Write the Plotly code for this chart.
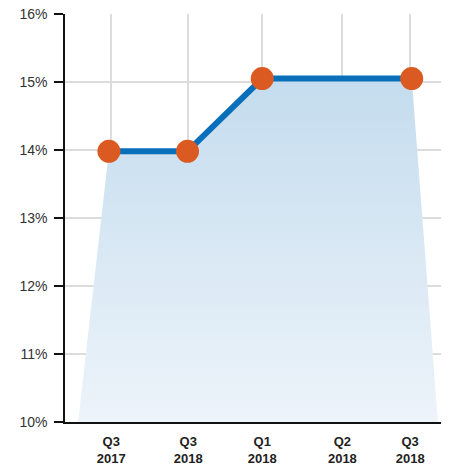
import plotly.graph_objects as go

# Quarter positions along the x axis and their labels
tick_pos = [1.0, 2.0, 2.96, 4.0, 4.88]
tick_labels = ["Q3<br>2017", "Q3<br>2018", "Q1<br>2018", "Q2<br>2018", "Q3<br>2018"]

# Observed rate (%) at the reported quarters
point_x = [0.97, 1.99, 2.96, 4.9]
rate = [13.98, 13.98, 15.05, 15.05]

y_min, y_max = 10, 16
y_ticks = [10, 11, 12, 13, 14, 15, 16]
y_labels = [f"{v}%" for v in y_ticks]

# Shaded band under the line, flaring out to the baseline
fill_x = [point_x[0] - 0.4] + point_x + [point_x[-1] + 0.34]
fill_y = [y_min] + rate + [y_min]

fig = go.Figure()

fig.add_trace(go.Scatter(
    x=fill_x, y=fill_y, mode="none", fill="toself",
    fillgradient=dict(
        type="vertical",
        colorscale=[[0, "rgba(237,244,250,1)"], [1, "rgba(196,220,238,1)"]],
    ),
    hoverinfo="skip", showlegend=False,
))

fig.add_trace(go.Scatter(
    x=point_x, y=rate, mode="lines",
    line=dict(color="#0a6fba", width=6),
    showlegend=False,
))

fig.add_trace(go.Scatter(
    x=point_x, y=rate, mode="markers",
    marker=dict(color="#db5a22", size=23, line=dict(width=0)),
    showlegend=False,
))

fig.update_layout(
    width=449, height=466,
    margin=dict(l=65, r=8, t=14, b=44),
    plot_bgcolor="white", paper_bgcolor="white",
    font=dict(family="Liberation Sans, Arial, sans-serif", color="#333333", size=14),
)

fig.update_xaxes(
    range=[0.4, 5.28],
    tickmode="array", tickvals=tick_pos, ticktext=tick_labels,
    tickfont=dict(size=13, color="#222222", family="Liberation Sans, Arial, sans-serif", weight="bold"),
    ticklabelstandoff=7, automargin=False,
    showgrid=True, gridcolor="#dcdcdc", gridwidth=1.5,
    showline=True, linecolor="#111111", linewidth=1.5,
    ticks="", zeroline=False,
)

fig.update_yaxes(
    range=[y_min, y_max],
    tickmode="array", tickvals=y_ticks, ticktext=y_labels,
    tickfont=dict(size=14, color="#333333"),
    showgrid=True, gridcolor="#dcdcdc", gridwidth=1.5,
    showline=True, linecolor="#111111", linewidth=1.5,
    ticks="outside", ticklen=9, tickcolor="#111111", tickwidth=1.5,
    ticklabelstandoff=4, automargin=False,
    zeroline=False,
)

fig.write_html("out.html")
